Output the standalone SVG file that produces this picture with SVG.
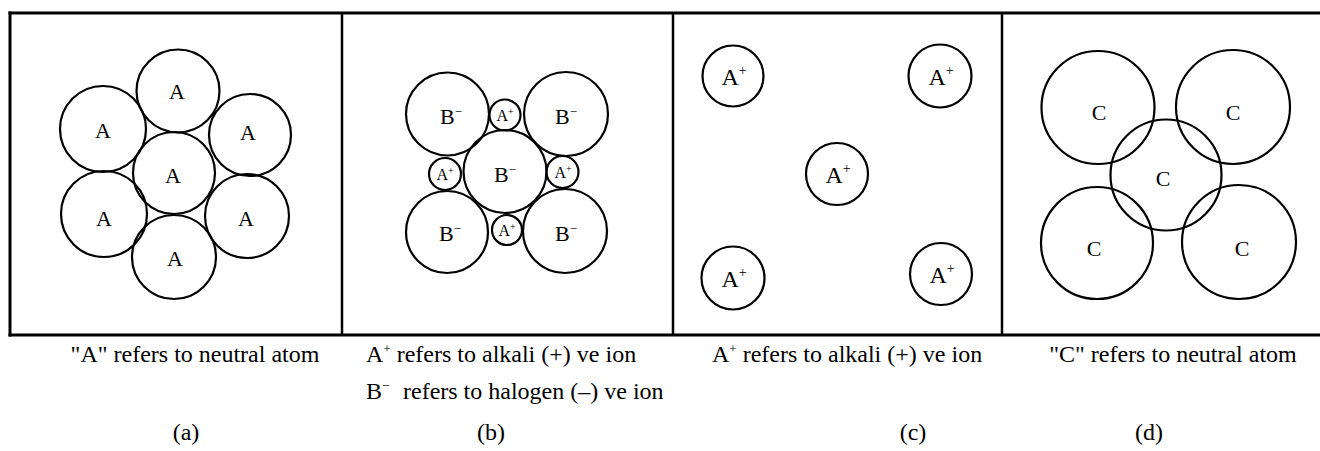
<svg xmlns="http://www.w3.org/2000/svg" width="1320" height="451" viewBox="0 0 1320 451">
<style>
.frame{stroke:#000;stroke-width:3;fill:none;stroke-linecap:square}
.div{stroke:#000;stroke-width:2.5;fill:none}
.atom{stroke:#000;stroke-width:2.2;fill:none}
.lbl{font-family:"Liberation Serif","Times New Roman",serif;font-size:22px;fill:#000;text-anchor:middle}
.sm{font-family:"Liberation Serif","Times New Roman",serif;font-size:16px;fill:#000;text-anchor:middle}
.big{font-family:"Liberation Serif","Times New Roman",serif;font-size:24px;fill:#000;text-anchor:middle}
.cap{font-family:"Liberation Serif","Times New Roman",serif;font-size:24px;fill:#000}
.mid{text-anchor:middle}
</style>
<rect width="1320" height="451" fill="#fff"/>
<g id="frame">
<line class="frame" x1="10" y1="13" x2="1320" y2="13"/>
<line class="frame" x1="10" y1="335" x2="1320" y2="335"/>
<line class="frame" x1="10" y1="13" x2="10" y2="335"/>
<line class="div" x1="342" y1="13" x2="342" y2="335"/>
<line class="div" x1="673" y1="13" x2="673" y2="335"/>
<line class="div" x1="1002" y1="13" x2="1002" y2="335"/>
</g>
<g id="panel-a">
<g id="a-top"><circle class="atom" cx="178" cy="91" r="41.5"/><text class="lbl" x="177" y="99">A</text></g>
<g id="a-ul"><circle class="atom" cx="103" cy="129" r="43"/><text class="lbl" x="103" y="138">A</text></g>
<g id="a-ur"><circle class="atom" cx="250" cy="135" r="41"/><text class="lbl" x="248" y="140">A</text></g>
<g id="a-c"><circle class="atom" cx="174" cy="173" r="41"/><text class="lbl" x="173" y="183">A</text></g>
<g id="a-ll"><circle class="atom" cx="104" cy="214" r="43"/><text class="lbl" x="104" y="226">A</text></g>
<g id="a-lr"><circle class="atom" cx="247" cy="216" r="42"/><text class="lbl" x="246" y="226">A</text></g>
<g id="a-bot"><circle class="atom" cx="174" cy="257" r="42"/><text class="lbl" x="175" y="266">A</text></g>
</g>
<g id="panel-b">
<g id="b-ul"><circle class="atom" cx="447.5" cy="114" r="41.5"/><text class="lbl" x="451" y="124">B<tspan dy="-8" font-size="13">−</tspan></text></g>
<g id="b-ur"><circle class="atom" cx="566" cy="114" r="42"/><text class="lbl" x="566" y="124">B<tspan dy="-8" font-size="13">−</tspan></text></g>
<g id="b-c"><circle class="atom" cx="505" cy="171.5" r="41.5"/><text class="lbl" x="505" y="182">B<tspan dy="-8" font-size="13">−</tspan></text></g>
<g id="b-ll"><circle class="atom" cx="447" cy="232" r="41"/><text class="lbl" x="450" y="241">B<tspan dy="-8" font-size="13">−</tspan></text></g>
<g id="b-lr"><circle class="atom" cx="565" cy="231" r="42"/><text class="lbl" x="566" y="241">B<tspan dy="-8" font-size="13">−</tspan></text></g>
<g id="b-at"><circle class="atom" cx="505" cy="115" r="15.5"/><text class="sm" x="505" y="121">A<tspan dy="-6" font-size="10">+</tspan></text></g>
<g id="b-al"><circle class="atom" cx="445" cy="174" r="16"/><text class="sm" x="445" y="180">A<tspan dy="-6" font-size="10">+</tspan></text></g>
<g id="b-ar"><circle class="atom" cx="562.5" cy="172" r="16"/><text class="sm" x="563" y="178">A<tspan dy="-6" font-size="10">+</tspan></text></g>
<g id="b-ab"><circle class="atom" cx="507" cy="230" r="15"/><text class="sm" x="507" y="236">A<tspan dy="-6" font-size="10">+</tspan></text></g>
</g>
<g id="panel-c">
<g id="c-tl"><circle class="atom" cx="733" cy="76" r="30.5"/><text class="big" x="734" y="85">A<tspan dy="-10" font-size="14">+</tspan></text></g>
<g id="c-tr"><circle class="atom" cx="940" cy="76" r="31.5"/><text class="big" x="941" y="85">A<tspan dy="-10" font-size="14">+</tspan></text></g>
<g id="c-c"><circle class="atom" cx="837" cy="174" r="31"/><text class="big" x="838" y="183">A<tspan dy="-10" font-size="14">+</tspan></text></g>
<g id="c-bl"><circle class="atom" cx="733" cy="278" r="31.5"/><text class="big" x="734" y="287">A<tspan dy="-10" font-size="14">+</tspan></text></g>
<g id="c-br"><circle class="atom" cx="941" cy="274" r="31"/><text class="big" x="942" y="283">A<tspan dy="-10" font-size="14">+</tspan></text></g>
</g>
<g id="panel-d">
<g id="d-tl"><circle class="atom" cx="1098" cy="107.5" r="56.5"/><text class="lbl" x="1099" y="120">C</text></g>
<g id="d-tr"><circle class="atom" cx="1233" cy="107" r="57"/><text class="lbl" x="1233" y="120">C</text></g>
<g id="d-c"><circle class="atom" cx="1166" cy="175" r="55.5"/><text class="lbl" x="1163" y="186">C</text></g>
<g id="d-bl"><circle class="atom" cx="1097" cy="243" r="56"/><text class="lbl" x="1094" y="256">C</text></g>
<g id="d-br"><circle class="atom" cx="1239" cy="242" r="57"/><text class="lbl" x="1242" y="256">C</text></g>
</g>
<g id="captions">
<text class="cap mid" x="195" y="362">"A" refers to neutral atom</text>
<text class="cap" x="366" y="362">A<tspan dy="-9" font-size="13">+</tspan><tspan dy="9"> refers to alkali (+) ve ion</tspan></text>
<text class="cap" x="366" y="399">B<tspan dy="-9" font-size="13">−</tspan><tspan x="403" dy="9">refers to halogen (–) ve ion</tspan></text>
<text class="cap" x="712" y="362">A<tspan dy="-9" font-size="13">+</tspan><tspan dy="9"> refers to alkali (+) ve ion</tspan></text>
<text class="cap mid" x="1173" y="362">"C" refers to neutral atom</text>
<text class="cap mid" x="186" y="440">(a)</text>
<text class="cap mid" x="491" y="440">(b)</text>
<text class="cap mid" x="913" y="440">(c)</text>
<text class="cap mid" x="1149" y="440">(d)</text>
</g>
</svg>
